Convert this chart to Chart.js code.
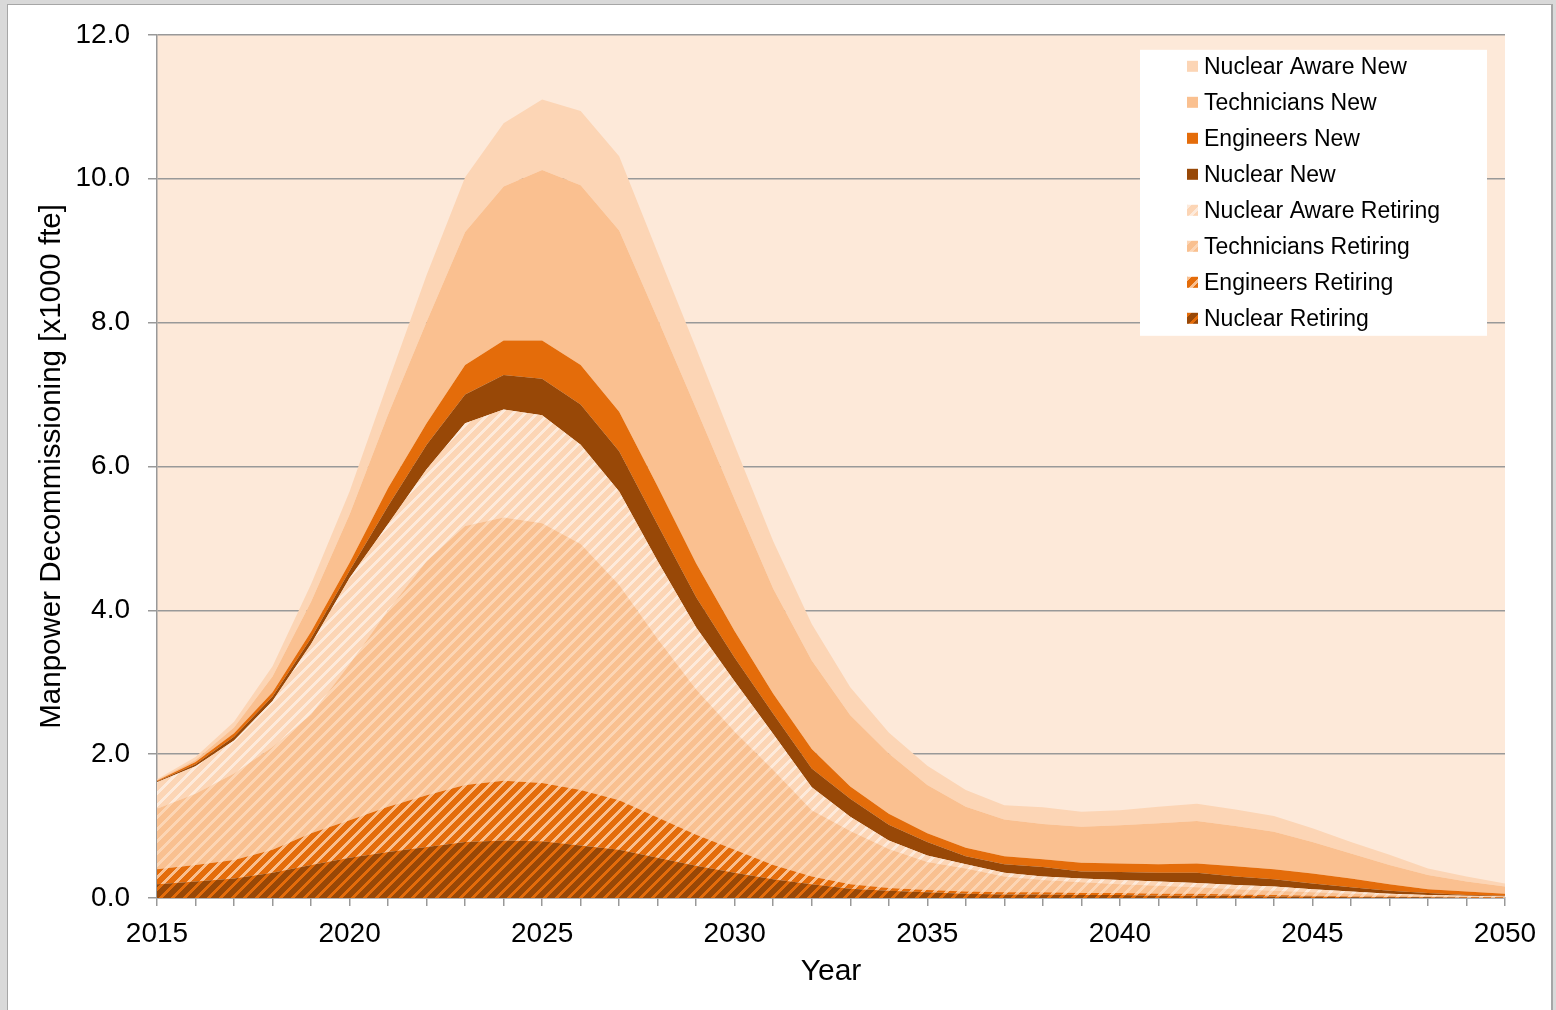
<!DOCTYPE html>
<html>
<head>
<meta charset="utf-8">
<script src="https://cdn.jsdelivr.net/npm/chart.js@4.4.0/dist/chart.umd.min.js"></script>
<style>
  html, body { margin: 0; padding: 0; }
  body { width: 1556px; height: 1010px; background: #d9d9d9; position: relative; overflow: hidden; }
  .frame { position: absolute; left: 7px; top: 4px; width: 1543px; height: 1020px; background: #fff;
           border-left: 1px solid #a6a6a6; border-top: 1px solid #a6a6a6; border-right: 2px solid #a6a6a6; }
  #chart { position: absolute; left: 0; top: 0; }
</style>
</head>
<body>
<div class="frame"></div>
<canvas id="chart" width="1556" height="1010"></canvas>
<script>
const years = [2015, 2016, 2017, 2018, 2019, 2020, 2021, 2022, 2023, 2024,
  2025, 2026, 2027, 2028, 2029, 2030, 2031, 2032, 2033, 2034,
  2035, 2036, 2037, 2038, 2039, 2040, 2041, 2042, 2043, 2044,
  2045, 2046, 2047, 2048, 2049, 2050];

// stacked from the bottom up
const nuclearRetiring = [0.19, 0.23, 0.27, 0.35, 0.46, 0.56, 0.64, 0.71, 0.78, 0.80,
  0.79, 0.73, 0.67, 0.56, 0.45, 0.35, 0.26, 0.19, 0.13, 0.10,
  0.08, 0.06, 0.05, 0.05, 0.04, 0.04, 0.03, 0.03, 0.03, 0.02,
  0.02, 0.01, 0.01, 0.01, 0.00, 0.00];
const engineersRetiring = [0.21, 0.23, 0.26, 0.32, 0.44, 0.52, 0.63, 0.72, 0.79, 0.83,
  0.81, 0.77, 0.69, 0.56, 0.43, 0.32, 0.20, 0.11, 0.06, 0.04,
  0.03, 0.03, 0.03, 0.03, 0.03, 0.03, 0.03, 0.03, 0.02, 0.02,
  0.01, 0.01, 0.01, 0.00, 0.01, 0.01];
const techniciansRetiring = [0.84, 0.99, 1.20, 1.43, 1.65, 2.17, 2.73, 3.25, 3.60, 3.66,
  3.61, 3.42, 2.99, 2.48, 2.02, 1.64, 1.32, 0.92, 0.74, 0.54,
  0.39, 0.32, 0.22, 0.17, 0.15, 0.12, 0.11, 0.09, 0.07, 0.06,
  0.05, 0.04, 0.02, 0.02, 0.01, 0.00];
const nuclearAwareRetiring = [0.37, 0.38, 0.46, 0.64, 0.98, 1.20, 1.20, 1.28, 1.43, 1.50,
  1.50, 1.38, 1.30, 1.08, 0.86, 0.70, 0.50, 0.32, 0.20, 0.12,
  0.09, 0.06, 0.05, 0.05, 0.05, 0.06, 0.06, 0.06, 0.06, 0.06,
  0.04, 0.03, 0.02, 0.01, 0.01, 0.01];
const nuclearNew = [0.01, 0.03, 0.05, 0.06, 0.08, 0.10, 0.25, 0.34, 0.40, 0.48,
  0.51, 0.56, 0.56, 0.51, 0.42, 0.33, 0.28, 0.26, 0.25, 0.22,
  0.19, 0.11, 0.12, 0.13, 0.10, 0.11, 0.12, 0.14, 0.12, 0.10,
  0.08, 0.06, 0.04, 0.03, 0.01, 0.01];
const engineersNew = [0.01, 0.03, 0.05, 0.06, 0.09, 0.11, 0.25, 0.30, 0.41, 0.48,
  0.53, 0.55, 0.55, 0.53, 0.47, 0.37, 0.28, 0.27, 0.17, 0.15,
  0.12, 0.12, 0.11, 0.11, 0.12, 0.12, 0.12, 0.13, 0.14, 0.14,
  0.14, 0.12, 0.09, 0.05, 0.05, 0.03];
const techniciansNew = [0.01, 0.03, 0.08, 0.22, 0.42, 0.67, 1.02, 1.41, 1.85, 2.14,
  2.37, 2.50, 2.52, 2.33, 2.15, 1.83, 1.46, 1.23, 0.99, 0.84,
  0.67, 0.57, 0.51, 0.49, 0.50, 0.53, 0.57, 0.59, 0.56, 0.52,
  0.44, 0.35, 0.27, 0.20, 0.14, 0.10];
const nuclearAwareNew = [0.01, 0.04, 0.08, 0.14, 0.24, 0.32, 0.45, 0.65, 0.76, 0.88,
  0.98, 1.03, 1.03, 0.92, 0.84, 0.75, 0.66, 0.51, 0.39, 0.29,
  0.27, 0.23, 0.20, 0.23, 0.21, 0.21, 0.23, 0.24, 0.23, 0.22,
  0.19, 0.16, 0.14, 0.09, 0.07, 0.04];

const fontFamily = "'Liberation Sans', Arial, sans-serif";
const canvas = document.getElementById("chart");
const ctx = canvas.getContext("2d");

const hatch = (base, stripe) => {
  const tile = document.createElement("canvas");
  tile.width = 12;
  tile.height = 12;
  const t = tile.getContext("2d");
  t.fillStyle = base;
  t.fillRect(0, 0, 12, 12);
  t.fillStyle = stripe;
  for (let x = 0; x < 12; x++) {
    for (let y = 0; y < 12; y++) {
      if ((x + y) % 12 < 4) t.fillRect(x, y, 1, 1);
    }
  }
  return ctx.createPattern(tile, "repeat");
};

const series = [
  { label: "Nuclear Retiring", data: nuclearRetiring, color: hatch("#984807", "#e46c0a") },
  { label: "Engineers Retiring", data: engineersRetiring, color: hatch("#e46c0a", "#f9bf8f") },
  { label: "Technicians Retiring", data: techniciansRetiring, color: hatch("#f9c090", "#fcd5b4") },
  { label: "Nuclear Aware Retiring", data: nuclearAwareRetiring, color: hatch("#fcd5b5", "#fdeadb") },
  { label: "Nuclear New", data: nuclearNew, color: "#984807" },
  { label: "Engineers New", data: engineersNew, color: "#e46c0a" },
  { label: "Technicians New", data: techniciansNew, color: "#fac090" },
  { label: "Nuclear Aware New", data: nuclearAwareNew, color: "#fcd5b5" },
];

const plotBackground = {
  id: "plotBackground",
  beforeDraw(chart) {
    const { ctx, chartArea } = chart;
    ctx.save();
    ctx.fillStyle = "#fde9d9";
    ctx.fillRect(chartArea.left, chartArea.top, chartArea.right - chartArea.left, chartArea.bottom - chartArea.top);
    ctx.restore();
  },
};

const boxLegend = {
  id: "boxLegend",
  afterDatasetsDraw(chart) {
    const { ctx, chartArea } = chart;
    const left = chartArea.right - 365;
    const top = chartArea.top + 15;
    ctx.save();
    ctx.fillStyle = "#fff";
    ctx.fillRect(left, top, 347, 286);
    ctx.font = "23px " + fontFamily;
    ctx.textBaseline = "middle";
    const items = chart.data.datasets.slice().reverse();
    items.forEach((ds, i) => {
      const cy = top + 17 + i * 36;
      ctx.fillStyle = ds.backgroundColor;
      ctx.fillRect(left + 47, cy - 6, 11, 11);
      ctx.fillStyle = "#000";
      ctx.fillText(ds.label, left + 64, cy + 1);
    });
    ctx.restore();
  },
};

new Chart(canvas, {
  type: "line",
  data: {
    labels: years,
    datasets: series.map((s, i) => ({
      label: s.label,
      data: s.data,
      backgroundColor: s.color,
      borderColor: "transparent",
      borderWidth: 0,
      pointRadius: 0,
      tension: 0,
      fill: i === 0 ? "origin" : "-1",
    })),
  },
  options: {
    responsive: false,
    animation: false,
    layout: { padding: { top: 30, right: 51, left: 0, bottom: 0 } },
    plugins: {
      legend: { display: false },
      tooltip: { enabled: false },
    },
    scales: {
      x: {
        grid: { drawOnChartArea: false, color: "#999", lineWidth: 1.5, tickLength: 8 },
        border: { color: "#999", width: 1.5 },
        ticks: {
          autoSkip: false,
          maxRotation: 0,
          padding: 11,
          color: "#000",
          font: { family: fontFamily, size: 28 },
          callback: (v, i) => (years[i] % 5 === 0 ? years[i] : ""),
        },
        title: {
          display: true,
          text: "Year",
          color: "#000",
          font: { family: fontFamily, size: 30 },
          padding: { top: 0, bottom: 20 },
        },
        afterFit: (scale) => {
          scale.height = 112;
        },
      },
      y: {
        stacked: true,
        min: 0,
        max: 12,
        grid: { color: "#999", lineWidth: 1.5, tickLength: 9 },
        border: { color: "#999", width: 1.5 },
        ticks: {
          stepSize: 2,
          padding: 18,
          color: "#000",
          font: { family: fontFamily, size: 28 },
          callback: (v) => v.toFixed(1),
        },
        title: {
          display: true,
          text: "Manpower Decommissioning [x1000 fte]",
          color: "#000",
          font: { family: fontFamily, size: 29.5 },
          padding: { top: 34, bottom: 0 },
        },
        afterFit: (scale) => {
          scale.width = 157;
        },
      },
    },
  },
  plugins: [plotBackground, boxLegend],
});
</script>
</body>
</html>
